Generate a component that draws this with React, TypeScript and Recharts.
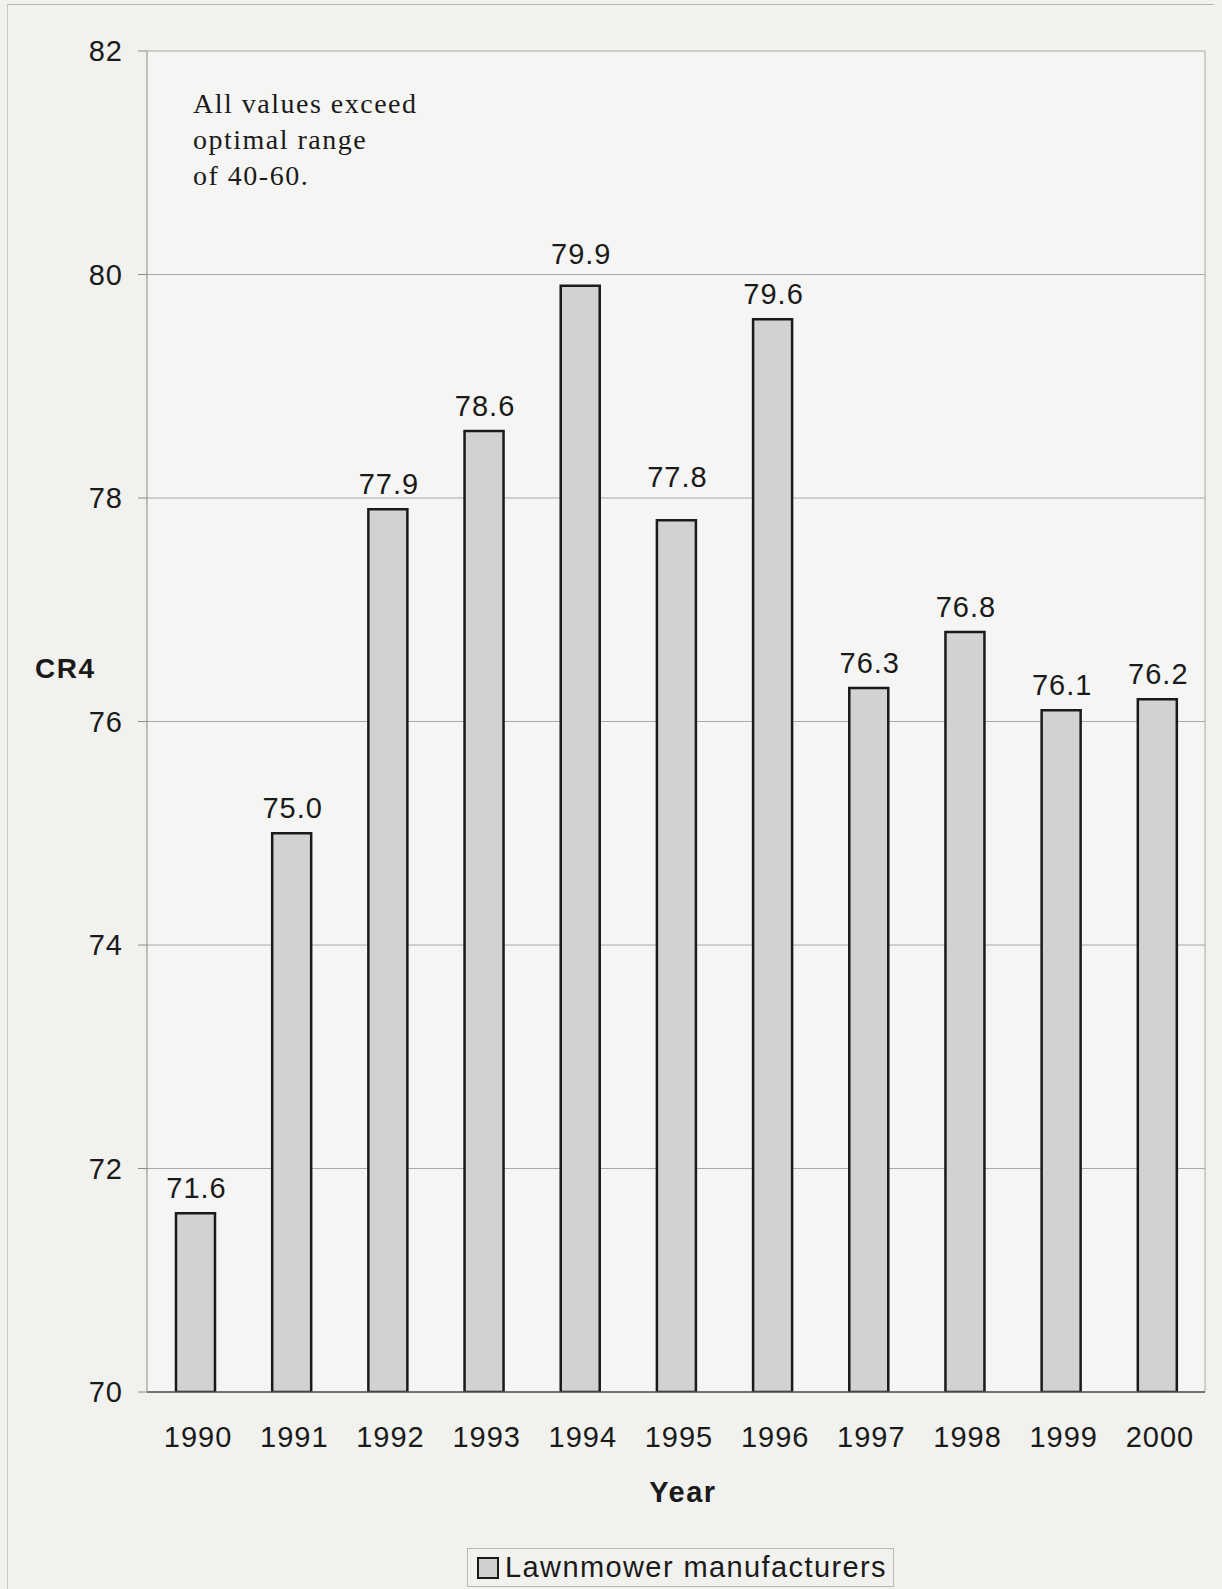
import React from 'react';
import {
  BarChart,
  Bar,
  XAxis,
  YAxis,
  CartesianGrid,
  LabelList,
  Legend,
} from 'recharts';

const years = ['1990', '1991', '1992', '1993', '1994', '1995', '1996', '1997', '1998', '1999', '2000'];
const cr4 = [71.6, 75.0, 77.9, 78.6, 79.9, 77.8, 79.6, 76.3, 76.8, 76.1, 76.2];
const yTicks = [70, 72, 74, 76, 78, 80, 82];
const noteLines = ['All values exceed', 'optimal range', 'of 40-60.'];
const seriesName = 'Lawnmower manufacturers';

// a couple of value labels sit higher than the rest in the original (moved by hand)
const labelLift: Record<string, number> = { '1994': 7, '1995': 18 };

const data = years.map((year, i) => ({ year, value: cr4[i] }));

const SANS = '"Liberation Sans", Arial, sans-serif';
const INK = '#1a1a1a';

function ValueLabel(props: any) {
  const { x, y, width, value, index } = props;
  const lift = labelLift[years[index]] || 0;
  return (
    <text
      x={x + width / 2 + 1}
      y={y - 15 - lift}
      textAnchor="middle"
      fill={INK}
      fontFamily={SANS}
      fontSize={29}
      letterSpacing={1}
    >
      {Number(value).toFixed(1)}
    </text>
  );
}

function LegendBox() {
  return (
    <div style={{ height: 50, paddingLeft: 467, paddingTop: 9, boxSizing: 'border-box' }}>
      <div
        style={{
          display: 'inline-flex',
          alignItems: 'center',
          height: 39,
          boxSizing: 'border-box',
          padding: '0 6px 0 9px',
          border: '1px solid #b8b8b8',
          fontFamily: SANS,
          fontSize: 29,
          letterSpacing: 1.4,
          color: INK,
        }}
      >
        <span
          style={{
            display: 'inline-block',
            width: 18,
            height: 18,
            background: '#cfcfcf',
            border: '2px solid #1a1a1a',
            marginRight: 6,
          }}
        />
        {seriesName}
      </div>
    </div>
  );
}

export default function App() {
  return (
    <div
      style={{
        position: 'absolute',
        left: 0,
        top: 0,
        width: 1222,
        height: 1589,
        background: '#f1f1ee',
        overflow: 'hidden',
      }}
    >
      <div
        style={{
          position: 'absolute',
          left: 7,
          top: 4,
          width: 1206,
          height: 1600,
          borderTop: '1px solid #b5b5b5',
          borderLeft: '1px solid #c8c8c8',
        }}
      />
      <BarChart
        width={1222}
        height={1589}
        data={data}
        margin={{ top: 51, right: 17, left: 0, bottom: 0 }}
        barCategoryGap={0}
      >
        <CartesianGrid
          stroke="#a8a8a8"
          strokeWidth={1}
          fill="#f5f5f3"
          verticalCoordinatesGenerator={({ offset }: any) => [offset.left + offset.width]}
        />
        <XAxis
          dataKey="year"
          height={147}
          axisLine={{ stroke: '#555', strokeWidth: 1.5 }}
          tickLine={false}
          tickMargin={28}
          tick={{ fill: INK, fontFamily: SANS, fontSize: 29, letterSpacing: 1, dx: 3 }}
          label={{
            value: 'Year',
            position: 'insideBottom',
            offset: 37,
            dx: 7,
            fill: INK,
            fontFamily: SANS,
            fontSize: 29,
            fontWeight: 700,
            letterSpacing: 1.5,
          }}
        />
        <YAxis
          width={147}
          domain={[70, 82]}
          ticks={yTicks}
          interval={0}
          allowDataOverflow
          axisLine={{ stroke: '#8a8a8a', strokeWidth: 1 }}
          tickLine={{ stroke: '#8a8a8a' }}
          tickSize={9}
          tickMargin={15}
          tick={{ fill: INK, fontFamily: SANS, fontSize: 29, letterSpacing: 1 }}
          label={{
            value: 'CR4',
            position: 'insideLeft',
            offset: 35,
            dy: -53,
            fill: INK,
            fontFamily: SANS,
            fontSize: 28,
            fontWeight: 700,
            letterSpacing: 1.5,
          }}
        />
        <Legend verticalAlign="bottom" wrapperStyle={{ left: 0, width: 1222 }} content={() => <LegendBox />} />
        <Bar
          dataKey="value"
          name={seriesName}
          barSize={39}
          fill="#d2d2d2"
          stroke={INK}
          strokeWidth={2.5}
          isAnimationActive={false}
        >
          <LabelList dataKey="value" content={ValueLabel} />
        </Bar>
      </BarChart>
      <div
        style={{
          position: 'absolute',
          left: 193,
          top: 86,
          fontFamily: '"Liberation Serif", "Times New Roman", serif',
          fontSize: 28,
          letterSpacing: 1.5,
          lineHeight: '36px',
          color: INK,
        }}
      >
        {noteLines.map((line) => (
          <div key={line}>{line}</div>
        ))}
      </div>
    </div>
  );
}
